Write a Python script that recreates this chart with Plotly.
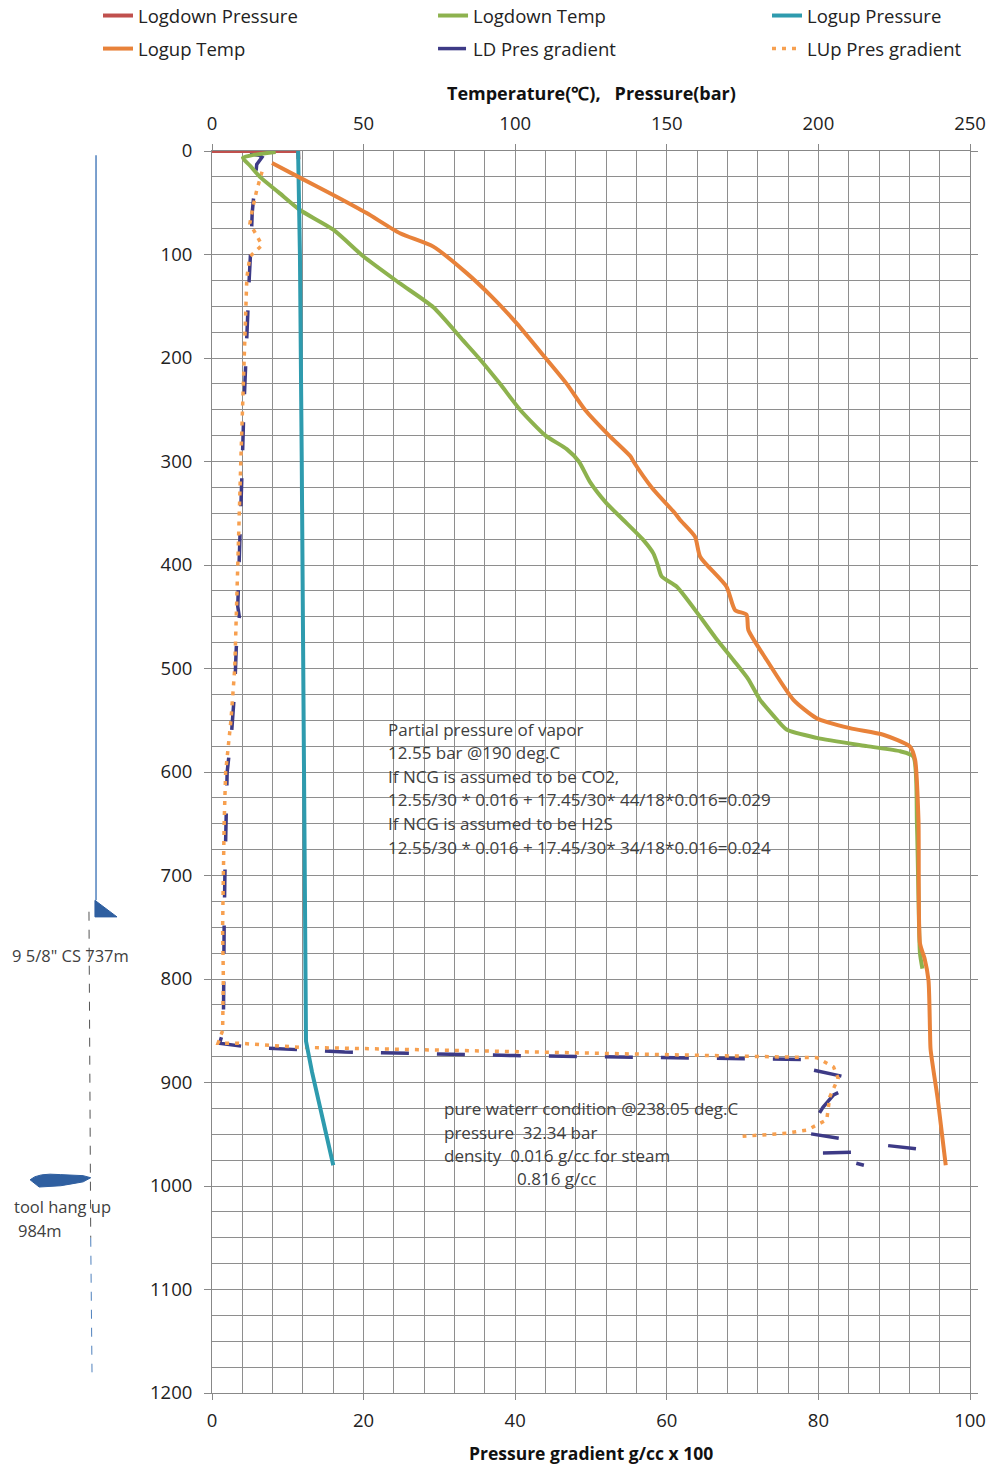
import plotly.graph_objects as go

# ---------------- data ----------------
# Logdown Pressure (bar) vs depth (m)
ld_pres_x = [0, 28.4, 28.5]
ld_pres_y = [0, 0, 8]

# Logup Pressure (bar)
lu_pres_x = [28.4, 29.0, 29.6, 30.2, 30.8, 31.0, 33.0, 36.5, 40.0]
lu_pres_y = [0, 100, 300, 550, 800, 860, 890, 935, 980]

# Logdown Temp (deg C)
ld_temp_x = [21, 10.2, 12.5, 15.8, 22, 29, 40, 50, 62, 73, 82.8, 88, 95, 101.6, 110, 117, 121,
             124.7, 130, 135.5, 142, 145.6, 147, 148.3, 153.3, 161, 166, 172, 176.8, 180.7, 185,
             189.5, 199.4, 216, 227, 231.3, 232.5, 233.0, 233.5, 234.3]
ld_temp_y = [1, 6.5, 14, 25, 40, 57, 76, 102, 128, 151, 183, 200, 225, 250, 275, 288, 300,
             320, 340, 356, 375, 389, 400, 411, 421, 450, 470, 492, 510, 530, 545,
             559, 567, 575, 580, 585, 650, 720, 775, 790]

# Logup Temp (deg C)
lu_temp_x = [19.8, 28.5, 40, 51, 62, 73, 84, 92, 100.5, 110, 117, 123, 131, 138, 139, 145, 152.7,
             154.4, 159.3, 161, 169.7, 172.5, 176.3, 176.9, 183, 191.7, 199.4, 210.4, 221.4, 230.2,
             231.9, 233, 233.5, 235, 236.3, 236.8, 237.0, 239.4, 242]
lu_temp_y = [11.6, 25, 42.5, 60, 79.5, 92.4, 118, 140, 166.5, 200, 225, 250, 275, 295, 300, 325, 350,
             356.5, 372.6, 392, 421, 443.5, 448, 462.8, 492, 530, 548, 557.6, 564, 575.5,
             588.4, 646, 765.5, 780, 801, 849, 868, 917, 980]

# LD Pres gradient (g/cc x 100)
ld_grad_x = [5.0, 6.2, 6.6, 5.9, 5.3, 5.3, 5.2, 4.9, 4.6, 4.5, 4.2, 4.0, 3.8, 3.6, 3.4, 3.6, 3.2, 3.0,
             2.6, 2.0, 1.8, 1.7, 1.6, 1.6, 1.5, 1.0, 5.0, 17.5, 28.8, 40.0, 50.0, 70.0, 79.8,
             79.3, 83.8, 84.0, 82.0, 80.6, 78.5, 82.8, None, 89.2, 94.0, None, 80.6, 86.4,
             None, 85.0, 86.0]
ld_grad_y = [3, 4, 6, 13, 60, 70, 82, 125, 173, 200, 250, 300, 350, 400, 440, 450, 480, 520,
             560, 600, 650, 700, 750, 800, 850, 862, 866, 870.5, 872.5, 874, 875, 876.5, 878,
             888, 895, 905, 912, 924, 949, 954, None, 961, 965, None, 968, 967,
             None, 978, 980]

# LUp Pres gradient (g/cc x 100)
lu_grad_x = [6.6, 5.9, 5.4, 5.0, 6.6, 5.0, 4.6, 4.2, 4.0, 3.8, 3.6, 3.4, 3.2, 3.0, 2.5, 1.8, 1.6,
             1.5, 1.4, 1.5, 1.4, 0.8, 3.5, 11.5, 24.8, 40.0, 51.2, 76.0, 79.8, 82.0, 82.6,
             81.5, 81.1, 78.5, 75.8, 70.0]
lu_grad_y = [20, 38, 54, 70, 91, 102, 122, 200, 250, 300, 350, 400, 450, 500, 550, 600, 650,
             700, 750, 800, 850, 862, 862, 866, 868, 870, 871.5, 875, 876, 885, 896,
             914, 936, 946, 949, 952]

note1_lines = ["Partial pressure of vapor",
               "12.55 bar @190 deg.C",
               "If NCG is assumed to be CO2,",
               "12.55/30 * 0.016 + 17.45/30* 44/18*0.016=0.029",
               "If NCG is assumed to be H2S",
               "12.55/30 * 0.016 + 17.45/30* 34/18*0.016=0.024"]
note2_lines = ["pure waterr condition @238.05 deg.C",
               "pressure  32.34 bar",
               "density  0.016 g/cc for steam"]
note2_last = "0.816 g/cc"

FONT = "Open Sans"
TXT = "#404040"
NOTE_SIZE = 17
TICK_SIZE = 18.5

fig = go.Figure()

fig.add_trace(go.Scatter(x=ld_pres_x, y=ld_pres_y, xaxis="x2", yaxis="y", mode="lines",
                         name="Logdown Pressure", legend="legend", legendgroup="a",
                         line=dict(color="#C0504D", width=4)))
fig.add_trace(go.Scatter(x=ld_temp_x, y=ld_temp_y, xaxis="x2", yaxis="y", mode="lines",
                         name="Logdown Temp", legend="legend2", legendgroup="b",
                         line=dict(color="#8DB24E", width=4, shape="spline", smoothing=0.6)))
fig.add_trace(go.Scatter(x=lu_pres_x, y=lu_pres_y, xaxis="x2", yaxis="y", mode="lines",
                         name="Logup Pressure", legend="legend3", legendgroup="c",
                         line=dict(color="#2E9BAE", width=4)))
fig.add_trace(go.Scatter(x=lu_temp_x, y=lu_temp_y, xaxis="x2", yaxis="y", mode="lines",
                         name="Logup Temp", legend="legend", legendgroup="d",
                         line=dict(color="#E8823A", width=4, shape="spline", smoothing=0.6)))
fig.add_trace(go.Scatter(x=ld_grad_x, y=ld_grad_y, xaxis="x", yaxis="y", mode="lines",
                         name="LD Pres gradient", connectgaps=False, legend="legend2", legendgroup="e",
                         line=dict(color="#3D3A86", width=3.5, dash="28px,28px")))
fig.add_trace(go.Scatter(x=lu_grad_x, y=lu_grad_y, xaxis="x", yaxis="y", mode="lines",
                         name="LUp Pres gradient", connectgaps=False, legend="legend3", legendgroup="f",
                         line=dict(color="#F7A050", width=3.5, dash="4px,6px")))

annotations = []
for i, t in enumerate(note1_lines):
    annotations.append(dict(x=23.0, y=558.5 + i * 22.8, xref="x", yref="y", text=t,
                            showarrow=False, xanchor="left", yanchor="middle",
                            font=dict(family=FONT, size=NOTE_SIZE, color=TXT)))
for i, t in enumerate(note2_lines):
    annotations.append(dict(x=30.4, y=925.5 + i * 22.5, xref="x", yref="y", text=t,
                            showarrow=False, xanchor="left", yanchor="middle",
                            font=dict(family=FONT, size=NOTE_SIZE, color=TXT)))
annotations.append(dict(x=40.0, y=992.5, xref="x", yref="y", text=note2_last,
                        showarrow=False, xanchor="left", yanchor="middle",
                        font=dict(family=FONT, size=NOTE_SIZE, color=TXT)))

# left well-sketch labels
left_labels = [("9 5/8\" CS 737m", -0.187, 777, "center"),
               ("tool hang up", -0.264, 1020, "left"),
               ("984m", -0.258, 1043, "left"),
               ("8 1/2\" BS", -0.204, 1202, "center"),
               ("1,180m", -0.206, 1224, "center")]
for t, xp, yd, anc in left_labels:
    annotations.append(dict(x=xp, y=yd, xref="paper", yref="y", text=t, showarrow=False,
                            xanchor=anc, yanchor="middle",
                            font=dict(family=FONT, size=16.5, color=TXT)))

# axis titles
annotations.append(dict(x=0.5, y=1 + 58 / 1242, xref="paper", yref="paper",
                        text="<b>Temperature(℃),\u00a0\u00a0\u00a0Pressure(bar)</b>", showarrow=False,
                        xanchor="center", yanchor="middle",
                        font=dict(family=FONT, size=18, color="#111")))
annotations.append(dict(x=0.5, y=-60 / 1242, xref="paper", yref="paper",
                        text="<b>Pressure gradient g/cc x 100</b>", showarrow=False,
                        xanchor="center", yanchor="middle",
                        font=dict(family=FONT, size=17.5, color="#111")))

shapes = [
    dict(type="line", xref="paper", yref="y", x0=-0.153, x1=-0.153, y0=4, y1=724,
         line=dict(color="#4F81BD", width=1.5)),
    dict(type="path", xref="paper", yref="y",
         path="M -0.1544,724 L -0.1544,740 L -0.1253,740 Z",
         fillcolor="#2F5FA0", line=dict(color="#2F5FA0", width=1)),
    dict(type="line", xref="paper", yref="y", x0=-0.1623, x1=-0.1600, y0=735, y1=1050,
         line=dict(color="#555555", width=1, dash="dash")),
    dict(type="line", xref="paper", yref="y", x0=-0.1600, x1=-0.1583, y0=1050, y1=1180,
         line=dict(color="#4F81BD", width=1, dash="dash")),
    dict(type="path", xref="paper", yref="y",
         path="M -0.240,994 Q -0.230,987 -0.200,989 L -0.170,990 L -0.160,992 L -0.170,996 "
              "Q -0.200,1001 -0.228,1001 Z",
         fillcolor="#2F5FA0", line=dict(color="#2F5FA0", width=1)),
]

GRID = "#8E8E8E"
leg_common = dict(orientation="v", yanchor="top", xanchor="left", y=1 + 154 / 1242,
                  font=dict(family=FONT, size=18.5, color="#222"), bgcolor="rgba(0,0,0,0)",
                  traceorder="grouped", tracegroupgap=6)
fig.update_layout(
    width=992, height=1465,
    margin=dict(l=212, r=22, t=151, b=72, autoexpand=False),
    paper_bgcolor="white", plot_bgcolor="white",
    font=dict(family=FONT, size=17, color="#222"),
    showlegend=True,
    legend=dict(x=-0.1504, **leg_common),
    legend2=dict(x=0.2916, **leg_common),
    legend3=dict(x=0.7322, **leg_common),
    xaxis=dict(range=[0, 100], dtick=20, tick0=0, side="bottom",
               showgrid=True, gridcolor=GRID, gridwidth=1,
               minor=dict(dtick=4, showgrid=True, gridcolor=GRID, gridwidth=1),
               showline=True, linecolor="#888", linewidth=1, ticks="outside", ticklen=6,
               tickcolor="#888", zeroline=False, tickfont=dict(size=TICK_SIZE),
               ticklabelstandoff=5),
    xaxis2=dict(range=[0, 250], dtick=50, tick0=0, side="top", overlaying="x",
                showgrid=False, showline=True, linecolor="#888", linewidth=1,
                ticks="outside", ticklen=6, tickcolor="#888", zeroline=False,
                tickfont=dict(size=TICK_SIZE), ticklabelstandoff=7),
    yaxis=dict(range=[1200, 0], dtick=100, tick0=0,
               showgrid=True, gridcolor=GRID, gridwidth=1,
               minor=dict(dtick=25, showgrid=True, gridcolor=GRID, gridwidth=1),
               showline=True, linecolor="#888", linewidth=1, mirror="ticks",
               ticks="outside", ticklen=7, tickcolor="#888", zeroline=False,
               tickfont=dict(size=TICK_SIZE), ticklabelstandoff=8),
    annotations=annotations,
    shapes=shapes,
)

fig.write_html("out.html", config={"displayModeBar": False},
               post_script="document.body.style.margin='0';document.body.style.overflow='hidden';")
